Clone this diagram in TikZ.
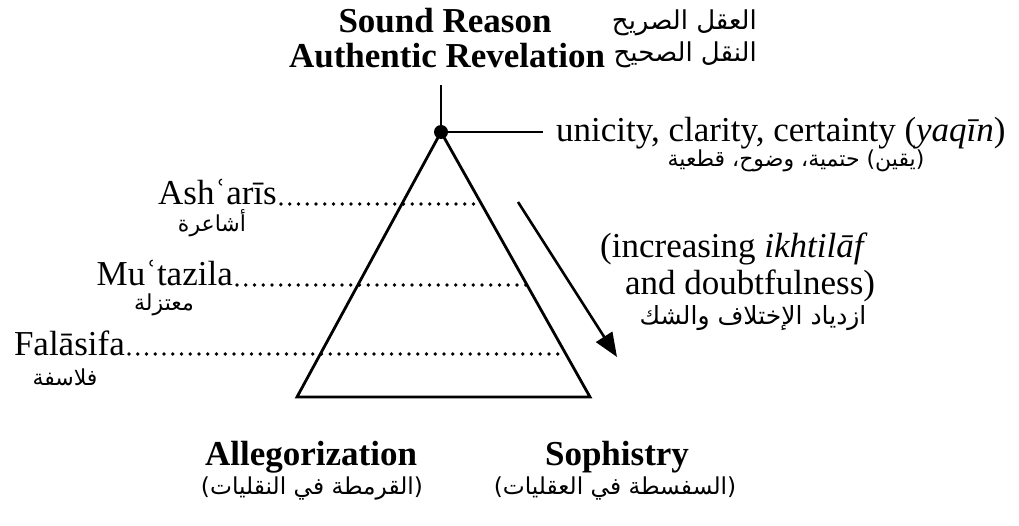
\documentclass[tikz,border=0pt]{standalone}
\usepackage{fontspec}
\setmainfont{Liberation Serif}
\newfontfamily\arabicfont[Script=Arabic]{DejaVu Sans}
\TeXXeTstate=1
\usetikzlibrary{arrows.meta,calc}

\begin{document}
\begin{tikzpicture}[x=1pt,y=-1pt,
  txt/.style={inner sep=0pt, font=\fontsize{35}{40}\selectfont},
  headtxt/.style={inner sep=0pt, font=\fontsize{35}{40}\selectfont\bfseries},
  artxt/.style={inner sep=0pt, font=\fontsize{22}{26}\arabicfont},
  artop/.style={inner sep=0pt, font=\fontsize{26}{31}\arabicfont},
  armid/.style={inner sep=0pt, font=\fontsize{25}{30}\arabicfont},
  arbig/.style={inner sep=0pt, font=\fontsize{23.3}{28}\arabicfont},
  stroke/.style={line width=2.8pt, line join=miter},
  dots/.style={line width=3.7pt, line cap=round, dash pattern=on 0pt off 8.75pt},
  joint/.style={circle, fill=black, inner sep=0pt, minimum size=14pt}]

\useasboundingbox (0,0) rectangle (1019,526);
\fill[white] (0,0) rectangle (1019,526);

% title at the apex
\node[headtxt, anchor=base] (sound) at (445,33) {Sound Reason};
\node[headtxt, anchor=base] (auth) at (447,68) {Authentic Revelation};
\node[artop, anchor=base east] (aql) at (757,30) {\beginR العقل الصريح\endR};
\node[artop, anchor=base east] (naql) at (757,62) {\beginR النقل الصحيح\endR};

% stem, apex joint and side tick
\coordinate (stemtop) at (441,85);
\node[joint] (apex) at (441,132) {};
\coordinate (tick) at (543,132);
\draw[stroke] (stemtop) -- (apex.center);
\draw[stroke] (apex.center) -- (tick);

\node[txt, anchor=base west] (uni) at (556,142) {unicity, clarity, certainty (\textit{yaqīn})};
\node[artxt, anchor=base] (uniar) at (796,167) {\beginR (يقين) حتمية، وضوح، قطعية\endR};

% the pyramid
\coordinate (bl) at (297,397);
\coordinate (br) at (590,397);
\draw[stroke] (apex.center) -- (bl) -- (br) -- cycle;

% levels
\node[txt, anchor=base east] (ash) at (277,205) {Ashʿarīs};
\node[artxt, anchor=base] (ashar) at (212,232) {\beginR أشاعرة\endR};
\node[txt, anchor=base east] (mut) at (233,286) {Muʿtazila};
\node[artxt, anchor=base] (mutar) at (164,310) {\beginR معتزلة\endR};
\node[txt, anchor=base east] (fal) at (125,355) {Falāsifa};
\node[artxt, anchor=base] (falar) at (65,385) {\beginR فلاسفة\endR};

\coordinate (r1) at ($(apex.center)!{(205-132)/265}!(br)$);
\coordinate (r2) at ($(apex.center)!{(286-132)/265}!(br)$);
\coordinate (r3) at ($(apex.center)!{(355-132)/265}!(br)$);
\draw[dots] ($(ash.base east)+(4,-1)$) -- ($(ash.base east -| r1)+(0,-1)$);
\draw[dots] ($(mut.base east)+(4,-1)$) -- ($(mut.base east -| r2)+(0,-1)$);
\draw[dots] ($(fal.base east)+(4,-1)$) -- ($(fal.base east -| r3)+(0,-1)$);

% direction of decline
\coordinate (arrfrom) at (518,202);
\coordinate (arrto) at (617,357);
\draw[line width=2.6pt, -{Triangle[length=24pt,width=19pt]}] (arrfrom) -- (arrto);

\node[txt, anchor=base west] (inc1) at (600,258) {(increasing \textit{ikhtilāf}};
\node[txt, anchor=base west] (inc2) at (625,295) {and doubtfulness)};
\node[armid, anchor=base] (incar) at (753,324) {\beginR ازدياد الإختلاف والشك\endR};

% the two failures at the base
\node[headtxt, anchor=base] (alleg) at (311,465) {Allegorization};
\node[headtxt, anchor=base] (soph) at (617,465) {Sophistry};
\node[arbig, anchor=base] (allegar) at (312,494) {\beginR (القرمطة في النقليات)\endR};
\node[arbig, anchor=base] (sophar) at (615,494) {\beginR (السفسطة في العقليات)\endR};
\end{tikzpicture}
\end{document}
